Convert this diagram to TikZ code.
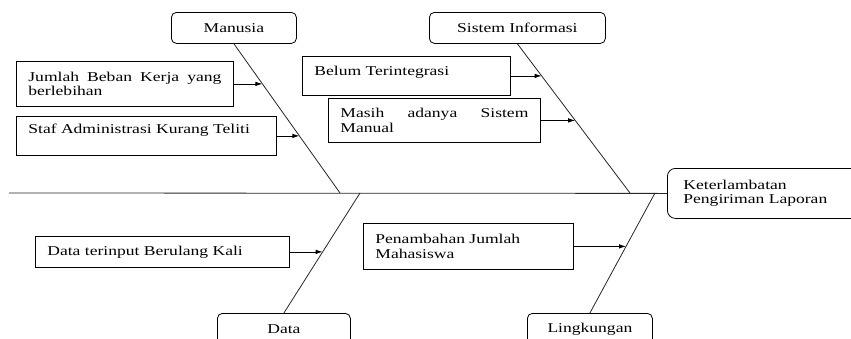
\documentclass[tikz,border=0pt]{standalone}
\usepackage{fontspec}
\setmainfont{Liberation Serif}[FakeStretch=1.3]
\usetikzlibrary{positioning}
\usetikzlibrary{intersections}
\usetikzlibrary{arrows.meta}

\tikzset{
  catbox/.style={draw, rounded corners=5pt, anchor=north west, minimum height=31pt, inner sep=0pt},
  causebox/.style={draw, anchor=north west, inner xsep=12pt, inner ysep=0pt, align=justify},
  bone/.style={draw=black!85},
}

\begin{document}
\begin{tikzpicture}[x=1pt, y=-1pt, >={Latex[length=7pt,width=4.5pt]}, line width=0.8pt, font=\fontsize{13.5}{14.5}\selectfont]
      \clip (0,0) rectangle (851,338);

      \node[catbox, minimum width=125pt] at (171,12) (manusia) {Manusia};
      \node[catbox, minimum width=176pt] at (429,12) (sistem) {Sistem Informasi};
      \node[catbox, minimum width=133pt] at (217,313) (data) {Data};
      \node[catbox, minimum width=125pt] at (527,313) (lingkungan) {Lingkungan};
      \node[draw, rounded corners=8pt, anchor=north west, inner xsep=16pt, text width=168pt,
            minimum height=50pt, align=left] at (667,168) (akibat) {Keterlambatan\\Pengiriman Laporan};

      \node[causebox, text width=193pt, minimum height=45pt] at (16,61) (beban) {Jumlah Beban Kerja yang berlebihan};
      \node[causebox, text width=236pt, minimum height=39pt, text depth=15pt] at (16,116) (teliti) {Staf Administrasi Kurang Teliti};
      \node[causebox, text width=184pt, minimum height=39pt, text depth=11pt] at (302,56) (integrasi) {Belum Terintegrasi};
      \node[causebox, text width=188pt, minimum height=44pt] at (328,98) (manual) {Masih adanya Sistem Manual};
      \node[causebox, text width=230pt, minimum height=31pt] at (35,236) (ulang) {Data terinput Berulang Kali};
      \node[causebox, text width=186pt, minimum height=46pt] at (363,223) (mahasiswa) {Penambahan Jumlah\\Mahasiswa};

      \coordinate (ekor) at (9,193);
      \coordinate (mkaki) at (340,193);
      \coordinate (skaki) at (630,193);
      \coordinate (dkaki) at (360,193);
      \coordinate (lkaki) at (655,193);

      \draw[bone] (ekor) -- (akibat.west);
      \draw[bone, name path=mbone] (manusia.south) -- (mkaki);
      \draw[bone, name path=sbone] (sistem.south) -- (skaki);
      \draw[bone, name path=dbone] (dkaki) -- (data.north);
      \draw[bone, name path=lbone] (lkaki) -- (lingkungan.north);

      \foreach \c/\b in {beban/mbone, teliti/mbone, integrasi/sbone, manual/sbone, ulang/dbone, mahasiswa/lbone}{
        \path[name path=\c-h] (\c.east) -- ++(150,0);
        \draw[->, name intersections={of=\c-h and \b, by=\c-p}] (\c.east) -- (\c-p);
      }
\end{tikzpicture}
\end{document}
